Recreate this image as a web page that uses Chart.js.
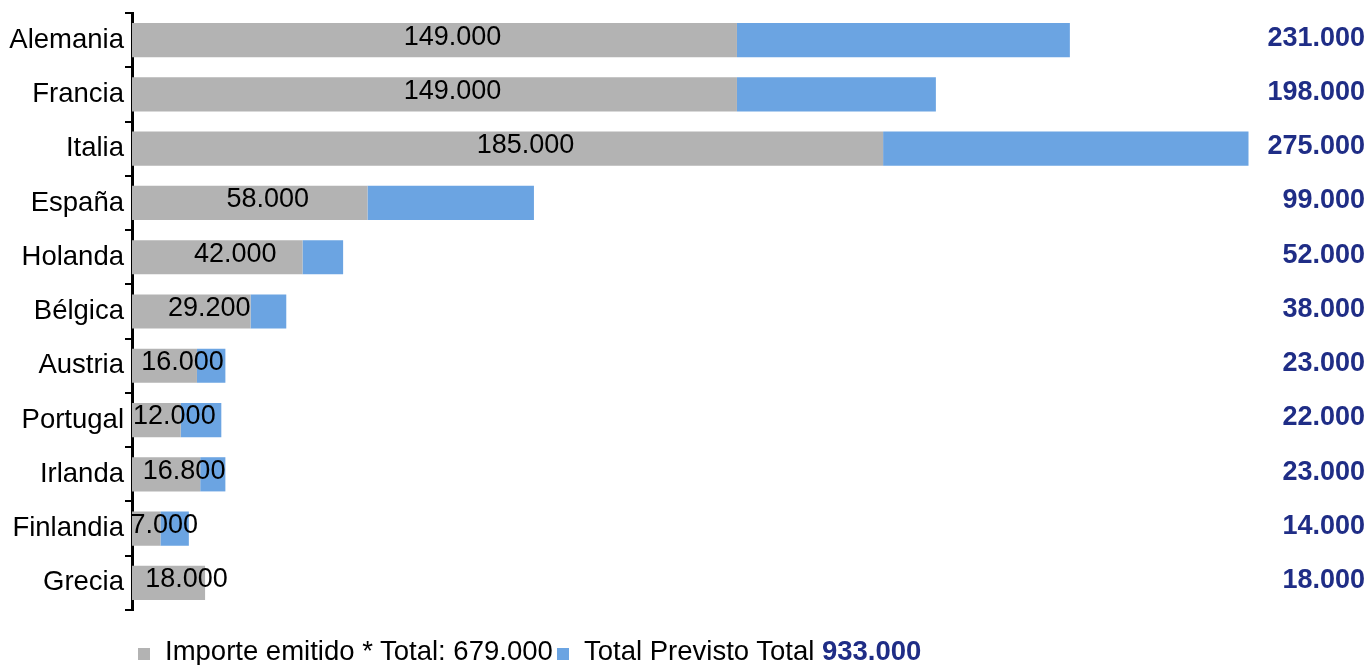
<!DOCTYPE html>
<html>
<head>
<meta charset="utf-8">
<script src="https://cdn.jsdelivr.net/npm/chart.js@4.4.0/dist/chart.umd.min.js"></script>
<style>
    body { margin: 0; background: #fff; font-family: "Liberation Sans", Arial, sans-serif; }
    .wrap { position: relative; width: 1370px; height: 665px; overflow: hidden; }
    .legend-item { position: absolute; top: 636px; font-size: 27.5px; line-height: 30px; white-space: nowrap; color: #000; }
    .legend-item .box { display: inline-block; width: 12px; height: 12px; margin-right: 15px; vertical-align: 0px; }
    .legend-item b { color: #1f2d86; }
</style>
</head>
<body>
<div class="wrap">
    <canvas id="chart" width="1370" height="665"></canvas>
    <div class="legend-item" style="left:138px"><span class="box" style="background:#b3b3b3"></span>Importe emitido * Total: 679.000</div>
    <div class="legend-item" style="left:557px"><span class="box" style="background:#6ba4e2"></span>Total Previsto Total <b>933.000</b></div>
</div>
<script>
// Chart data
const categories = ['Alemania', 'Francia', 'Italia', 'España', 'Holanda', 'Bélgica', 'Austria', 'Portugal', 'Irlanda', 'Finlandia', 'Grecia'];
const importeEmitido = [149000, 149000, 185000, 58000, 42000, 29200, 16000, 12000, 16800, 7000, 18000];
const totalPrevisto = [231000, 198000, 275000, 99000, 52000, 38000, 23000, 22000, 23000, 14000, 18000];

const pendiente = totalPrevisto.map((t, i) => t - importeEmitido[i]);

const GRAY = '#b3b3b3';
const BLUE = '#6ba4e2';
const FONT = '"Liberation Sans", Arial, sans-serif';

// 149000 -> "149.000"
function fmt(v) {
    return String(Math.round(v)).replace(/\B(?=(\d{3})+(?!\d))/g, '.');
}

// Value labels inside the gray bars and totals on the right
const labelsPlugin = {
    id: 'barLabels',
    afterDatasetsDraw(chart) {
        const ctx = chart.ctx;
        const meta = chart.getDatasetMeta(0);
        ctx.save();
        ctx.textBaseline = 'middle';
        meta.data.forEach((bar, i) => {
            ctx.font = '27px ' + FONT;
            ctx.fillStyle = '#000';
            ctx.textAlign = 'center';
            ctx.fillText(fmt(importeEmitido[i]), (bar.base + bar.x) / 2 + 18, bar.y - 3);

            ctx.font = 'bold 27px ' + FONT;
            ctx.fillStyle = '#1f2d86';
            ctx.textAlign = 'right';
            ctx.fillText(fmt(totalPrevisto[i]), 1365, bar.y - 2);
        });
        ctx.restore();
    }
};

const ctx = document.getElementById('chart').getContext('2d');
new Chart(ctx, {
    type: 'bar',
    data: {
        labels: categories,
        datasets: [
            {
                label: 'Importe emitido',
                data: importeEmitido,
                backgroundColor: GRAY,
                barPercentage: 0.63,
                categoryPercentage: 1
            },
            {
                label: 'Total Previsto',
                data: pendiente,
                backgroundColor: BLUE,
                barPercentage: 0.63,
                categoryPercentage: 1
            }
        ]
    },
    options: {
        indexAxis: 'y',
        responsive: false,
        animation: false,
        layout: { padding: { top: 13, bottom: 55, right: 20, left: 0 } },
        plugins: {
            legend: { display: false },
            tooltip: { enabled: false }
        },
        scales: {
            x: {
                stacked: true,
                display: false,
                min: 0,
                max: 300000
            },
            y: {
                stacked: true,
                afterFit(scale) {
                    scale.width = 132;
                    scale.paddingTop = 0;
                    scale.paddingBottom = 0;
                },
                border: { color: '#000', width: 3 },
                grid: {
                    offset: true,
                    drawOnChartArea: false,
                    tickLength: 7,
                    color: '#000',
                    lineWidth: 2
                },
                ticks: {
                    padding: 1,
                    color: '#000',
                    font: { family: FONT, size: 27.5 }
                }
            }
        }
    },
    plugins: [labelsPlugin]
});
</script>
</body>
</html>
